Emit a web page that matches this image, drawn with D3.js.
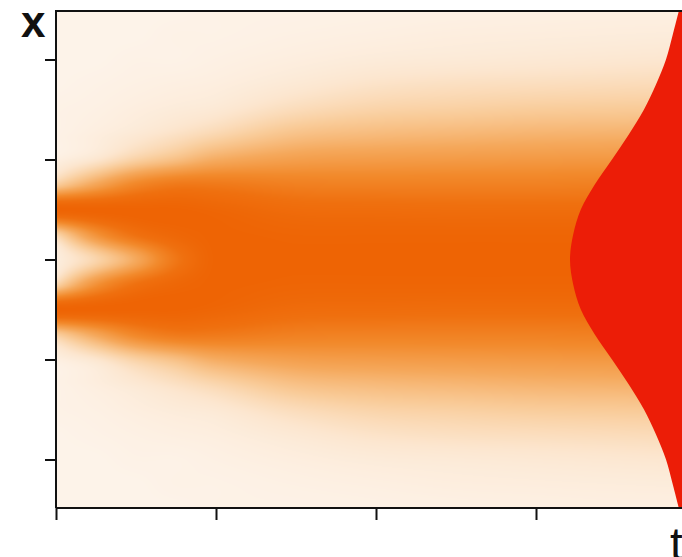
<!DOCTYPE html>
<html>
<head>
<meta charset="utf-8">
<script src="https://cdn.jsdelivr.net/npm/d3@7"></script>
<style>
  body { margin: 0; background: #fff; }
  svg { display: block; }
</style>
</head>
<body>
<div id="app"></div>
<script>
// positions along x (rows, top to bottom) and times t (columns)
const xRows = [2.5, 2.25, 2, 1.75, 1.5, 1.25, 1, 0.75, 0.5, 0.25, 0,
  -0.25, -0.5, -0.75, -1, -1.25, -1.5, -1.75, -2, -2.25, -2.5];
const tCols = [0, 0.25, 0.5, 0.75, 1, 1.5, 2, 2.5, 3, 3.5, 4];

// colour intensity, one array per time column
const dens_t0   = [0, 0, 0, 0, .01, .01, .03, .24, 1, .2, .04, .2, 1, .24, .03, .01, .01, 0, 0, 0, 0];
const dens_t025 = [0, 0, 0, .01, .02, .04, .1, .47, 1, .6, .2, .6, 1, .47, .1, .04, .02, .01, 0, 0, 0];
const dens_t05  = [0, 0, .01, .02, .04, .08, .22, .68, 1, .85, .45, .85, 1, .68, .22, .08, .04, .02, .01, 0, 0];
const dens_t075 = [0, .01, .01, .03, .06, .13, .32, .78, 1, .96, .8, .96, 1, .78, .32, .13, .06, .03, .01, .01, 0];
const dens_t1   = [.01, .01, .02, .04, .08, .19, .43, .78, .97, 1, 1, 1, .97, .78, .43, .19, .08, .04, .02, .01, .01];
const dens_t15  = [.01, .02, .04, .08, .16, .31, .51, .73, .9, .98, 1, .98, .9, .73, .51, .31, .16, .08, .04, .02, .01];
const dens_t2   = [.015, .03, .06, .12, .21, .35, .53, .72, .89, .98, 1, .98, .89, .72, .53, .35, .21, .12, .06, .03, .015];
const dens_t25  = [.02, .04, .07, .14, .23, .37, .54, .72, .88, .98, 1, .98, .88, .72, .54, .37, .23, .14, .07, .04, .02];
const dens_t3   = [.025, .045, .08, .15, .25, .39, .55, .72, .88, .98, 1, .98, .88, .72, .55, .39, .25, .15, .08, .045, .025];
const dens_t35  = [.03, .05, .09, .16, .26, .4, .56, .73, .88, .98, 1, .98, .88, .73, .56, .4, .26, .16, .09, .05, .03];
const dens_t4   = [.03, .055, .1, .17, .27, .41, .57, .73, .88, .98, 1, .98, .88, .73, .57, .41, .27, .17, .1, .055, .03];
const columns = [dens_t0, dens_t025, dens_t05, dens_t075, dens_t1, dens_t15, dens_t2, dens_t25, dens_t3, dens_t35, dens_t4];

// final profile (red shape) at the same x rows
const finalProfile = [.042, .058, .075, .10, .13, .168, .21, .253, .288, .307, .315,
  .307, .288, .253, .21, .168, .13, .10, .075, .058, .042];

const yTicks = [-2, -1, 0, 1, 2];
const tTicks = [0, 1, 2, 3, 4];

const width = 682, height = 557;
const marginLeft = 56, marginTop = 11, plotBottom = 508;

const xScale = d3.scaleLinear().domain([0, 4]).range([marginLeft, marginLeft + 640]);
const yScale = d3.scaleLinear().domain([-2.485, 2.485]).range([plotBottom, marginTop]);
const pScale = d3.scaleLinear().domain([0, 0.4]).range([0, 160]);

const color = d3.scaleLinear()
  .domain([0, .1, .25, .45, .65, .85, 1])
  .range(["#fdf3e9", "#fce6cf", "#f9cc9a", "#f5a85b", "#f28a2c", "#ef700f", "#ee6404"])
  .clamp(true);

let svg = d3.select('#app')
  .append('svg')
  .attr('width', width)
  .attr('height', height);

svg.append('clipPath')
  .attr('id', 'plotClip')
  .append('rect')
  .attr('x', marginLeft)
  .attr('y', marginTop)
  .attr('width', xScale(4) - marginLeft)
  .attr('height', plotBottom - marginTop);

// smooth cubic between the read values (rows evenly spaced)
function rowValue(col, x) {
  const step = 0.25;
  let f = (xRows[0] - x) / step;
  let i = Math.floor(f);
  let u = f - i;
  const g = k => col[Math.max(0, Math.min(col.length - 1, k))];
  const p0 = g(i - 1), p1 = g(i), p2 = g(i + 1), p3 = g(i + 2);
  return 0.5 * ((2 * p1) + (-p0 + p2) * u + (2 * p0 - 5 * p1 + 4 * p2 - p3) * u * u + (-p0 + 3 * p1 - 3 * p2 + p3) * u * u * u);
}

// hermite between columns (uneven spacing)
function colValue(vals, tv) {
  const n = tCols.length;
  let j = d3.bisectRight(tCols, tv) - 1;
  j = Math.max(0, Math.min(n - 2, j));
  const h = tCols[j + 1] - tCols[j];
  const u = (tv - tCols[j]) / h;
  const slope = k => {
    const a = Math.max(0, k - 1), b = Math.min(n - 1, k + 1);
    return (vals[b] - vals[a]) / (tCols[b] - tCols[a]);
  };
  const m0 = slope(j) * h, m1 = slope(j + 1) * h;
  const u2 = u * u, u3 = u2 * u;
  return (2 * u3 - 3 * u2 + 1) * vals[j] + (u3 - 2 * u2 + u) * m0 + (-2 * u3 + 3 * u2) * vals[j + 1] + (u3 - u2) * m1;
}

const pw = Math.round(xScale(4) - marginLeft), ph = Math.round(plotBottom - marginTop);
const canvas = document.createElement('canvas');
canvas.width = pw;
canvas.height = ph;
const ctx = canvas.getContext('2d');
const img = ctx.createImageData(pw, ph);

for (let py = 0; py < ph; py++) {
  const xv = yScale.invert(marginTop + py + 0.5);
  const colVals = columns.map(c => rowValue(c, xv));
  for (let px = 0; px < pw; px++) {
    const tv = xScale.invert(marginLeft + px + 0.5);
    const v = colValue(colVals, tv);
    const c = d3.rgb(color(v));
    const k = (py * pw + px) * 4;
    img.data[k] = c.r;
    img.data[k + 1] = c.g;
    img.data[k + 2] = c.b;
    img.data[k + 3] = 255;
  }
}
ctx.putImageData(img, 0, 0);

svg.append('image')
  .attr('x', marginLeft)
  .attr('y', marginTop)
  .attr('width', pw)
  .attr('height', ph)
  .attr('preserveAspectRatio', 'none')
  .attr('href', canvas.toDataURL());

// red final distribution
const area = d3.area()
  .y((d, i) => yScale(xRows[i]))
  .x0(xScale(4) + 20)
  .x1(d => xScale(4) - pScale(d))
  .curve(d3.curveCatmullRom);

svg.append('path')
  .datum(finalProfile)
  .attr('clip-path', 'url(#plotClip)')
  .attr('fill', '#ec1d07')
  .attr('d', area);

// frame
svg.append('line')
  .attr('x1', marginLeft).attr('x2', width + 20)
  .attr('y1', marginTop).attr('y2', marginTop)
  .attr('stroke', '#111').attr('stroke-width', 2);

svg.append('g')
  .attr('transform', 'translate(' + marginLeft + ',0)')
  .call(d3.axisLeft(yScale).tickValues(yTicks).tickSize(11).tickFormat('').tickSizeOuter(0))
  .call(g => g.select('.domain').remove())
  .call(g => g.selectAll('line').attr('stroke', '#111').attr('stroke-width', 2));

svg.append('line')
  .attr('x1', marginLeft).attr('x2', marginLeft)
  .attr('y1', marginTop - 1).attr('y2', plotBottom)
  .attr('stroke', '#111').attr('stroke-width', 2);

svg.append('g')
  .attr('transform', 'translate(0,' + plotBottom + ')')
  .call(d3.axisBottom(xScale).tickValues(tTicks).tickSize(12).tickFormat('').tickSizeOuter(0))
  .call(g => g.select('.domain').attr('stroke', '#111').attr('stroke-width', 2).attr('d', 'M' + marginLeft + ',0H' + (width + 20)))
  .call(g => g.selectAll('line').attr('stroke', '#111').attr('stroke-width', 2));

svg.append('text')
  .attr('x', 21)
  .attr('y', 37)
  .attr('font-family', 'Liberation Sans, Arial, sans-serif')
  .attr('font-weight', 'bold')
  .attr('font-size', 44)
  .attr('fill', '#111')
  .text('x');

svg.append('text')
  .attr('x', 670)
  .attr('y', 560)
  .attr('font-family', 'Liberation Sans, Arial, sans-serif')
  .attr('font-size', 46)
  .attr('fill', '#111')
  .text('t');
</script>
</body>
</html>
